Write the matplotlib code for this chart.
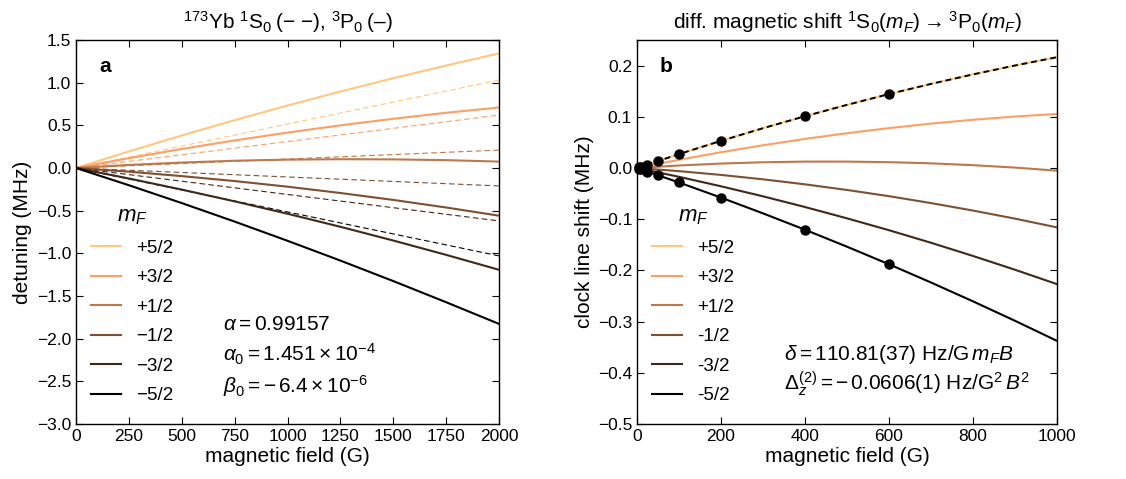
import numpy as np
import matplotlib.pyplot as plt

plt.rcParams['font.family'] = ['Liberation Sans', 'DejaVu Sans']
plt.rcParams['mathtext.fontset'] = 'custom'
plt.rcParams['mathtext.rm'] = 'Liberation Sans'
plt.rcParams['mathtext.it'] = 'Liberation Sans:italic'
plt.rcParams['mathtext.bf'] = 'Liberation Sans:bold'
plt.rcParams['xtick.direction'] = 'in'
plt.rcParams['ytick.direction'] = 'in'
plt.rcParams['xtick.top'] = True
plt.rcParams['ytick.right'] = True
plt.rcParams['xtick.major.size'] = 5
plt.rcParams['ytick.major.size'] = 5
plt.rcParams['axes.linewidth'] = 1.0

# panel a: 3P0 detuning (solid) and 1S0 linear shift (dashed) vs field
labels_a = ['+5/2', '+3/2', '+1/2', '\u22121/2', '\u22123/2', '\u22125/2']
field_a = [0, 250, 500, 750, 1000, 1250, 1500, 1750, 2000]
det_p52 = [0, 0.194, 0.381, 0.560, 0.732, 0.896, 1.052, 1.201, 1.343]
det_p32 = [0, 0.115, 0.223, 0.323, 0.415, 0.500, 0.577, 0.647, 0.709]
det_p12 = [0, 0.036, 0.064, 0.085, 0.098, 0.103, 0.101, 0.092, 0.075]
det_m12 = [0, -0.043, -0.095, -0.153, -0.219, -0.293, -0.374, -0.463, -0.559]
det_m32 = [0, -0.123, -0.253, -0.391, -0.536, -0.689, -0.850, -1.018, -1.193]
det_m52 = [0, -0.202, -0.411, -0.628, -0.853, -1.085, -1.325, -1.573, -1.827]
lin_field = [0, 2000]
lin_end = [1.03, 0.62, 0.21, -0.21, -0.62, -1.03]

# panel b: differential clock shift vs field
labels_b = ['+5/2', '+3/2', '+1/2', '-1/2', '-3/2', '-5/2']
field_b = [0, 100, 200, 300, 400, 500, 600, 700, 800, 900, 1000]
sh_p52 = [0, 0.0271, 0.0530, 0.0777, 0.1011, 0.1233, 0.1444, 0.1642, 0.1828, 0.2002, 0.2164]
sh_p32 = [0, 0.0160, 0.0308, 0.0444, 0.0568, 0.0679, 0.0779, 0.0867, 0.0942, 0.1005, 0.1056]
sh_p12 = [0, 0.0049, 0.0087, 0.0112, 0.0125, 0.0125, 0.0114, 0.0091, 0.0055, 0.0008, -0.0052]
sh_m12 = [0, -0.0061, -0.0135, -0.0221, -0.0319, -0.0429, -0.0550, -0.0685, -0.0831, -0.0989, -0.1160]
sh_m32 = [0, -0.0172, -0.0357, -0.0553, -0.0762, -0.0983, -0.1215, -0.1460, -0.1718, -0.1987, -0.2268]
sh_m52 = [0, -0.0283, -0.0578, -0.0886, -0.1205, -0.1537, -0.1880, -0.2236, -0.2604, -0.2984, -0.3376]
meas_field = [5, 10, 25, 50, 100, 200, 400, 600]
meas_up = [0.0014, 0.0028, 0.0068, 0.0135, 0.027, 0.053, 0.101, 0.144]
meas_dn = [-0.0014, -0.0028, -0.0069, -0.014, -0.028, -0.058, -0.121, -0.188]

colors = plt.cm.copper(np.linspace(1, 0, 6))


def tick_fmt(v, pos):
    # one decimal, proper minus sign, no "-0.0"
    v = round(v, 6) + 0.0
    return ('%.1f' % v).replace('-', '\u2212')


fig = plt.figure(figsize=(11.26, 4.79), dpi=100)
ax1 = fig.add_axes([0.0675, 0.1148, 0.3757, 0.8017])
ax2 = fig.add_axes([0.5657, 0.1148, 0.373, 0.8017])

legend_kw = dict(loc='lower left', bbox_to_anchor=(-0.01, 0.0), frameon=False, fontsize=13.5,
                 title='$m_F$', title_fontsize=16, handlelength=1.6, labelspacing=0.66,
                 handletextpad=0.8, borderaxespad=0.65)

det_a = [det_p52, det_p32, det_p12, det_m12, det_m32, det_m52]
for c, end in zip(colors, lin_end):
    ax1.plot(lin_field, [0, end], color=c, lw=0.8, ls=(0, (5, 3)))
for c, y, lab in zip(colors, det_a, labels_a):
    ax1.plot(field_a, y, color=c, lw=1.5, label=lab)

ax1.set_xlim(0, 2000)
ax1.set_ylim(-3.0, 1.5)
ax1.set_xticks(np.arange(0, 2001, 250))
ax1.set_yticks(np.arange(-3.0, 1.51, 0.5))
ax1.yaxis.set_major_formatter(plt.FuncFormatter(tick_fmt))
ax1.tick_params(labelsize=12.5)
ax1.set_xlabel('magnetic field (G)', fontsize=15, labelpad=2)
ax1.set_ylabel('detuning (MHz)', fontsize=15, labelpad=3)
ax1.set_title('$^{173}$Yb $^{1}$S$_{0}$\u2009(\u2212 \u2212), $^{3}$P$_{0}$\u2009(\u2013)', fontsize=15, pad=8)
ax1.text(0.055, 0.93, 'a', transform=ax1.transAxes, fontsize=15, fontweight='bold', va='center')
ax1.legend(**legend_kw)
ax1.text(0.348, 0.258, r'$\alpha = 0.99157$', transform=ax1.transAxes, fontsize=15, va='center')
ax1.text(0.348, 0.18, r'$\alpha_0 = 1.451\times10^{-4}$', transform=ax1.transAxes, fontsize=15, va='center')
ax1.text(0.348, 0.10, r'$\beta_0 = -\,6.4\times10^{-6}$', transform=ax1.transAxes, fontsize=15, va='center')

sh_b = [sh_p52, sh_p32, sh_p12, sh_m12, sh_m32, sh_m52]
for c, y, lab in zip(colors, sh_b, labels_b):
    ax2.plot(field_b, y, color=c, lw=1.5, label=lab)
ax2.plot(field_b, sh_p52, color='black', lw=1.4, ls=(0, (3, 2)))
ax2.plot(meas_field, meas_up, 'o', color='black', ms=6.5, clip_on=False)
ax2.plot(meas_field, meas_dn, 'o', color='black', ms=6.5, clip_on=False)

ax2.set_xlim(0, 1000)
ax2.set_ylim(-0.5, 0.25)
ax2.set_xticks(np.arange(0, 1001, 200))
ax2.set_yticks(np.arange(-0.5, 0.21, 0.1))
ax2.yaxis.set_major_formatter(plt.FuncFormatter(tick_fmt))
ax2.tick_params(labelsize=12.5)
ax2.set_xlabel('magnetic field (G)', fontsize=15, labelpad=2)
ax2.set_ylabel('clock line shift (MHz)', fontsize=15, labelpad=3)
ax2.set_title('diff. magnetic shift $^{1}$S$_{0}$($m_F$)\u2009\u2192\u2009$^{3}$P$_{0}$($m_F$)', fontsize=15, pad=8)
ax2.text(0.055, 0.93, 'b', transform=ax2.transAxes, fontsize=15, fontweight='bold', va='center')
ax2.legend(**legend_kw)
ax2.text(0.35, 0.18, r'$\delta = 110.81(37)$ Hz/G$\,m_F B$', transform=ax2.transAxes, fontsize=15, va='center')
ax2.text(0.35, 0.105, r'$\Delta_z^{(2)} = -\,0.0606(1)$ Hz/G$^2\,B^2$', transform=ax2.transAxes, fontsize=15, va='center')

fig.savefig('out.png', dpi=100)
